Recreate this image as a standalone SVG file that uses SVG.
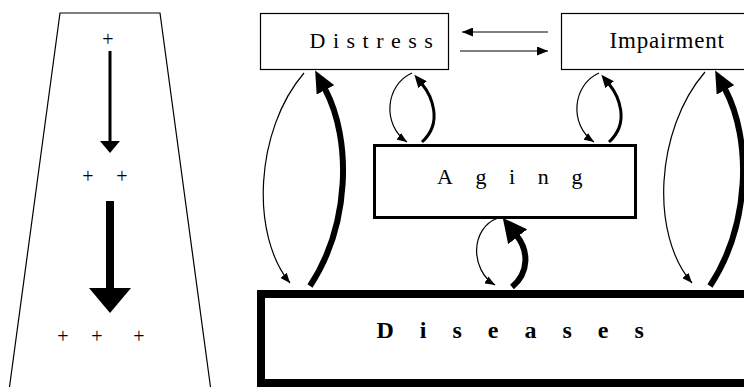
<svg xmlns="http://www.w3.org/2000/svg" width="744" height="387" viewBox="0 0 744 387">
<style>
  .box { fill: #fff; stroke: #000; }
  .serif { font-family: "Liberation Serif", "Times New Roman", serif; fill: #000; }
  .plus { font-family: "Liberation Serif", "Times New Roman", serif; font-size: 20px; text-anchor: middle; fill: #000; }
  .thin { fill: none; stroke: #000; stroke-width: 1.2; }
  .med { fill: none; stroke: #000; stroke-width: 3; }
  .thick { fill: none; stroke: #000; stroke-width: 6; }
</style>
<defs>
  <marker id="ah" markerUnits="userSpaceOnUse" markerWidth="10" markerHeight="8" refX="10" refY="4" orient="auto">
    <path d="M0,0 L10,4 L0,8 z" fill="#000"/>
  </marker>
  <marker id="ahh" markerUnits="userSpaceOnUse" markerWidth="11" markerHeight="9" refX="11" refY="4.5" orient="auto">
    <path d="M0,0 L11,4.5 L0,9 z" fill="#000"/>
  </marker>
  <marker id="ahm" markerUnits="userSpaceOnUse" markerWidth="14" markerHeight="11" refX="1" refY="5.5" orient="auto">
    <path d="M0,0 L13,5.5 L0,11 z" fill="#000"/>
  </marker>
  <marker id="ahb" markerUnits="userSpaceOnUse" markerWidth="24" markerHeight="20" refX="1" refY="10" orient="auto">
    <path d="M0,0 L22,10 L0,20 z" fill="#000"/>
  </marker>
  <marker id="ahb2" markerUnits="userSpaceOnUse" markerWidth="26" markerHeight="24" refX="1" refY="12" orient="auto">
    <path d="M0,0 L24,12 L0,24 z" fill="#000"/>
  </marker>
</defs>
<rect width="744" height="387" fill="#fff"/>

<g id="left-panel">
  <path d="M9.5,387 L60,13 L160,13 L210.5,387" fill="none" stroke="#000" stroke-width="1.2"/>
  <text class="plus" x="108" y="46">+</text>
  <rect x="108.5" y="51" width="3" height="91" fill="#000"/>
  <path d="M100,141 L120,141 L110,153 z" fill="#000"/>
  <text class="plus" x="88 122" y="183">++</text>
  <rect x="106" y="201" width="8" height="88" fill="#000"/>
  <path d="M89,288 L131,288 L110,313 z" fill="#000"/>
  <text class="plus" x="63 97 139" y="343">+++</text>
</g>

<g id="distress">
  <rect class="box" x="260.5" y="13.5" width="188" height="56" stroke-width="1.2"/>
  <text class="serif" x="309.5" y="47.5" font-size="22" letter-spacing="7.5">Distress</text>
</g>
<g id="impairment">
  <rect class="box" x="561.5" y="13.5" width="200" height="56" stroke-width="1.2"/>
  <text class="serif" x="609.5" y="48" font-size="23" letter-spacing="0.8">Impairment</text>
</g>
<g id="aging">
  <rect class="box" x="374.5" y="145.5" width="261" height="72" stroke-width="3"/>
  <text class="serif" x="437" y="184.3" font-size="22" letter-spacing="22.6">Aging</text>
</g>
<g id="diseases">
  <rect class="box" x="261" y="294" width="600" height="89" stroke-width="8"/>
  <text class="serif" x="376.5" y="337.5" font-size="24" font-weight="bold" letter-spacing="26">Diseases</text>
</g>

<g id="connectors">
  <line class="thin" x1="548" y1="32" x2="462" y2="32" stroke-width="1.5" marker-end="url(#ahh)"/>
  <line class="thin" x1="460" y1="51" x2="548" y2="51" stroke-width="1.5" marker-end="url(#ahh)"/>

  <path class="thin" d="M304,73 C255,130 250,235 290,283" marker-end="url(#ah)"/>
  <path class="thick" d="M310,286 C350,225 352,140 325,89" marker-end="url(#ahb)"/>

  <path class="thin" d="M705,72 C655,130 650,235 692,283" marker-end="url(#ah)"/>
  <path class="thick" d="M710,286 C750,225 752,140 725,89" marker-end="url(#ahb)"/>

  <path class="thin" d="M412,73 C385,85 382,125 407,142" marker-end="url(#ah)"/>
  <path class="med" d="M422,142 C444,122 431,95 422,84" marker-end="url(#ahm)"/>

  <path class="thin" d="M599,73 C572,85 569,125 594,142" marker-end="url(#ah)"/>
  <path class="med" d="M609,142 C631,122 618,95 609,84" marker-end="url(#ahm)"/>

  <path class="thin" d="M498,218 C470,228 470,270 495,285" marker-end="url(#ah)"/>
  <path class="thick" d="M512,287 C530,272 528,250 517,236" marker-end="url(#ahb2)"/>
</g>
</svg>
